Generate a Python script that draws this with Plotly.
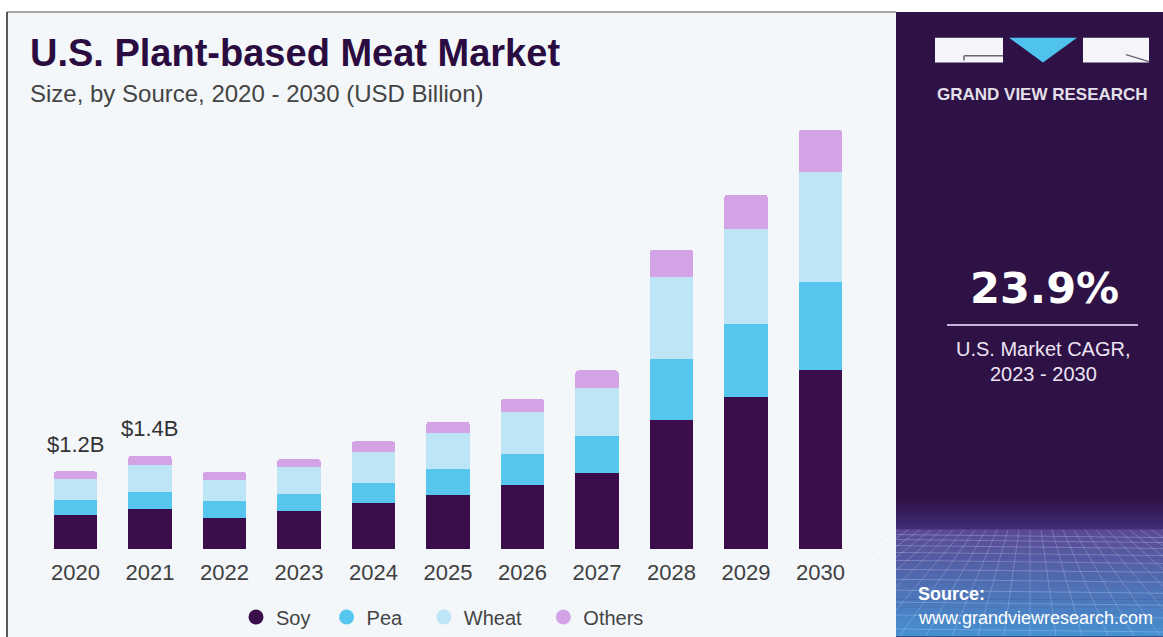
import plotly.graph_objects as go

# ---------------- data ----------------
years = ["2020", "2021", "2022", "2023", "2024", "2025", "2026", "2027", "2028", "2029", "2030"]
soy = [0.52, 0.61, 0.48, 0.59, 0.71, 0.83, 0.98, 1.17, 1.97, 2.32, 2.73]
pea = [0.23, 0.27, 0.26, 0.26, 0.30, 0.39, 0.47, 0.56, 0.94, 1.12, 1.35]
wheat = [0.33, 0.41, 0.32, 0.41, 0.47, 0.55, 0.64, 0.73, 1.24, 1.44, 1.68]
others = [0.11, 0.14, 0.12, 0.12, 0.17, 0.18, 0.21, 0.27, 0.42, 0.53, 0.64]
series_names = ["Soy", "Pea", "Wheat", "Others"]
label_years = ["2020", "2021"]
label_texts = ["$1.2B", "$1.4B"]
cagr_text = "23.9%"
cagr_caption = ["U.S. Market CAGR,", "2023 - 2030"]

# ---------------- style ----------------
W, H = 1163, 637
KY = 637 / 629.0  # vertical correction observed in the rendered picture
colors = ["#3b0d4a", "#57c6ef", "#bde5f6", "#d3a3e6"]
legend_pad = [2, 3, 3, 0]  # trailing spaces to match legend spacing
FONT = "Liberation Sans, Arial, sans-serif"
PANEL = "#2e1145"


def px(x):
    return x / W


def py(y):
    return 1 - y * KY / H


fig = go.Figure()
series = [soy, pea, wheat, others]
for name, vals, col in zip(series_names, series, colors):
    fig.add_trace(go.Bar(x=years, y=vals, name=name, marker_color=col,
                         marker_line_width=0, width=0.58, showlegend=False,
                         hoverinfo="x+y+name"))
for name, col, pad in zip(series_names, colors, legend_pad):
    fig.add_trace(go.Scatter(x=[None], y=[None], mode="markers",
                             name=name + "\u00a0" * pad,
                             marker=dict(size=15, color=col), showlegend=True))

totals = [sum(v) for v in zip(*series)]
annotations = []
for yr, t in zip(label_years, label_texts):
    i = years.index(yr)
    annotations.append(dict(x=i, y=totals[i], xref="x", yref="y", text=t,
                            showarrow=False, yshift=27, yanchor="middle",
                            font=dict(family=FONT, size=22, color="#333333")))

shapes = []
# left light panel
shapes.append(dict(type="rect", xref="paper", yref="paper", x0=px(7), x1=px(896),
                   y0=-0.05, y1=py(12), fillcolor="#f3f7fa", line_width=0, layer="below"))
# borders
shapes.append(dict(type="line", xref="paper", yref="paper", x0=px(7), x1=px(896),
                   y0=py(12), y1=py(12), line=dict(color="#8a8a8a", width=1.5)))
shapes.append(dict(type="line", xref="paper", yref="paper", x0=px(7), x1=px(7),
                   y0=py(12), y1=-0.05, line=dict(color="#222222", width=1.5)))
# right dark panel
shapes.append(dict(type="rect", xref="paper", yref="paper", x0=px(896), x1=px(1163),
                   y0=-0.05, y1=py(12), fillcolor=PANEL, line_width=0, layer="below"))


def lerp(c1, c2, t):
    a = [int(c1[i:i + 2], 16) for i in (1, 3, 5)]
    b = [int(c2[i:i + 2], 16) for i in (1, 3, 5)]
    return "#%02x%02x%02x" % tuple(round(a[k] + (b[k] - a[k]) * t) for k in range(3))


# bottom gradient (decorative)
n = 14
for k in range(n):
    y0 = 500 + (533 - 500) * k / n
    y1 = 500 + (533 - 500) * (k + 1) / n + 0.5
    shapes.append(dict(type="rect", xref="paper", yref="paper", x0=px(896), x1=px(1163),
                       y0=py(y1), y1=py(y0), fillcolor=lerp(PANEL, "#43307a", k / n),
                       line_width=0, layer="below"))
n = 26
for k in range(n):
    y0 = 533 + (640 - 533) * k / n
    y1 = 533 + (640 - 533) * (k + 1) / n + 0.5
    shapes.append(dict(type="rect", xref="paper", yref="paper", x0=px(896), x1=px(1163),
                       y0=py(y1), y1=py(y0), fillcolor=lerp("#5a4a94", "#4592d2", k / n),
                       line_width=0, layer="below"))
# grid lines
for yy in [538, 543, 549, 556, 564, 573, 583, 594, 606, 619, 633]:
    shapes.append(dict(type="line", xref="paper", yref="paper", x0=px(896), x1=px(1163),
                       y0=py(yy), y1=py(yy + 3), line=dict(color="rgba(210,225,255,0.28)", width=1),
                       layer="below"))
for k in range(-12, 13):
    shapes.append(dict(type="line", xref="paper", yref="paper",
                       x0=px(1030 + k * 11), x1=px(1030 + k * 26),
                       y0=py(533), y1=py(640), line=dict(color="rgba(210,225,255,0.25)", width=1),
                       layer="below"))

# logo
shapes.append(dict(type="rect", xref="paper", yref="paper", x0=px(935), x1=px(1003),
                   y0=py(63), y1=py(38), fillcolor="#f5f4f8", line_width=0))
shapes.append(dict(type="rect", xref="paper", yref="paper", x0=px(1083), x1=px(1149),
                   y0=py(63), y1=py(38), fillcolor="#f5f4f8", line_width=0))
shapes.append(dict(type="path", xref="paper", yref="paper",
                   path="M %f,%f L %f,%f L %f,%f Z" % (px(1009), py(38), px(1077), py(38), px(1043), py(63)),
                   fillcolor="#4fc2ee", line_width=0))
shapes.append(dict(type="line", xref="paper", yref="paper", x0=px(964), x1=px(1003),
                   y0=py(56), y1=py(56), line=dict(color="#6b6475", width=1.5)))
shapes.append(dict(type="line", xref="paper", yref="paper", x0=px(964), x1=px(964),
                   y0=py(56), y1=py(61), line=dict(color="#6b6475", width=1.5)))
shapes.append(dict(type="line", xref="paper", yref="paper", x0=px(1126), x1=px(1149),
                   y0=py(55), y1=py(62), line=dict(color="#6b6475", width=1.5)))
# CAGR underline
shapes.append(dict(type="line", xref="paper", yref="paper", x0=px(947), x1=px(1138),
                   y0=py(327), y1=py(327), line=dict(color="#c7b3da", width=2)))


def txt(x, y, s, size, color, family=FONT, anchor="center"):
    return dict(x=px(x), y=py(y), xref="paper", yref="paper", text=s, showarrow=False,
                xanchor=anchor, yanchor="middle", font=dict(family=family, size=size, color=color))


annotations += [
    txt(28, 53, "<b>U.S. Plant-based Meat Market</b>", 38, "#2a0c40", anchor="left"),
    txt(28, 94, "Size, by Source, 2020 - 2030 (USD Billion)", 24, "#444444", anchor="left"),
    txt(1042, 95, "<b>GRAND VIEW RESEARCH</b>", 17, "#e4e0ea"),
    txt(1044, 290, "<b>%s</b>" % cagr_text, 43, "#ffffff", family="DejaVu Sans, sans-serif"),
    txt(1043, 351, cagr_caption[0], 20, "#ece4f3"),
    txt(1043, 376, cagr_caption[1], 20, "#ece4f3"),
    txt(916, 598, "<b>Source:</b>", 18, "#ffffff", anchor="left"),
    txt(916, 622, "www.grandviewresearch.com", 18, "#ffffff", anchor="left"),
]

fig.update_layout(
    width=W, height=H, margin=dict(l=0, r=0, t=0, b=0),
    paper_bgcolor="#ffffff", plot_bgcolor="rgba(0,0,0,0)",
    barmode="stack", barcornerradius=3, bargap=0.42,
    font=dict(family=FONT, color="#444444"),
    xaxis=dict(domain=[px(38.25), px(857.75)], type="category", range=[-0.5, 10.5],
               showgrid=False, zeroline=False, showline=False, ticks="",
               ticklabelstandoff=8,
               tickfont=dict(family=FONT, size=22, color="#404040")),
    yaxis=dict(domain=[py(553), py(130)], range=[0, 423 / 66], visible=False,
               showgrid=False, zeroline=False),
    legend=dict(orientation="h", x=px(236), y=py(621), xanchor="left", yanchor="middle",
                traceorder="normal",
                bgcolor="rgba(0,0,0,0)", font=dict(family=FONT, size=20, color="#444444"),
                itemclick=False),
    shapes=shapes, annotations=annotations, showlegend=True,
)

fig.write_html("out.html")
